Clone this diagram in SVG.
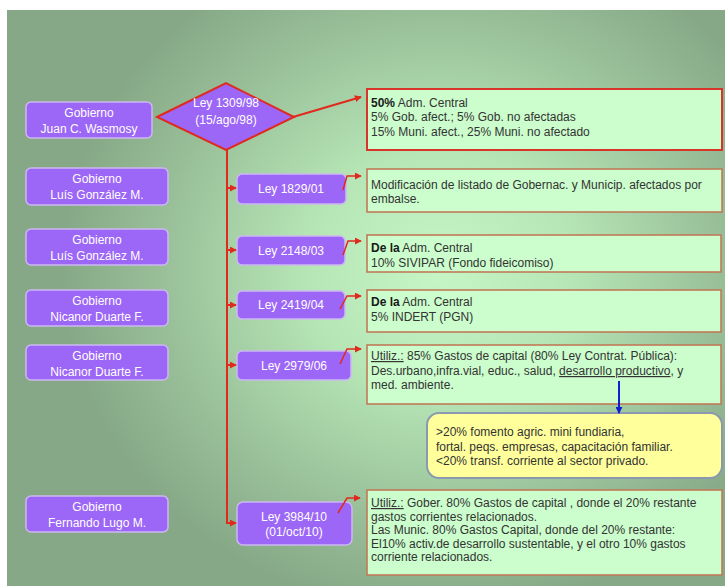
<svg xmlns="http://www.w3.org/2000/svg" width="725" height="586" viewBox="0 0 725 586">
<defs>
<radialGradient id="bg" gradientUnits="userSpaceOnUse" cx="440" cy="270" r="360" gradientTransform="translate(440 270) scale(1.05 0.95) translate(-440 -270)">
<stop offset="0" stop-color="#c6f6c6"/>
<stop offset="0.35" stop-color="#b6e6b6"/>
<stop offset="0.75" stop-color="#98be98"/>
<stop offset="1" stop-color="#86a886"/>
</radialGradient>
<marker id="ar" viewBox="0 0 8 8" refX="7" refY="4" markerWidth="7" markerHeight="7" markerUnits="userSpaceOnUse" orient="auto">
<path d="M0,0 L8,4 L0,8 z" fill="#e02a1e"/>
</marker>
<marker id="ab" viewBox="0 0 8 8" refX="7" refY="4" markerWidth="7" markerHeight="7" markerUnits="userSpaceOnUse" orient="auto">
<path d="M0,0 L8,4 L0,8 z" fill="#1020d0"/>
</marker>
</defs>
<style>
text{font-family:"Liberation Sans",Arial,sans-serif;font-size:12px}
.gov rect,.ley rect{fill:#9c66f7;stroke:#cbb8f2;stroke-width:1.5}
.gov text,.ley text,.dia text{fill:#ffffff;text-anchor:middle}
.info rect{fill:#ccfdcc;stroke:#c07a58;stroke-width:1.6}
.info text{fill:#333333}
.red{fill:none;stroke:#e02a1e;stroke-width:2}
.thin{fill:none;stroke:#e02a1e;stroke-width:1.5}
.bd{font-weight:bold;fill:#1a1a1a}
.u{text-decoration:underline}
</style>
<rect x="0" y="0" width="725" height="586" fill="#ffffff"/>
<rect x="7" y="10" width="718" height="576" fill="url(#bg)"/>

<g id="gov1" class="gov"><rect x="26" y="102" width="126" height="36" rx="5"/><text x="89" y="117">Gobierno</text><text x="89" y="133">Juan C. Wasmosy</text></g>
<g id="gov2" class="gov"><rect x="26" y="168" width="142" height="37" rx="5"/><text x="97" y="183">Gobierno</text><text x="97" y="199">Luís González  M.</text></g>
<g id="gov3" class="gov"><rect x="26" y="229" width="142" height="36" rx="5"/><text x="97" y="244">Gobierno</text><text x="97" y="260">Luís González  M.</text></g>
<g id="gov4" class="gov"><rect x="26" y="290" width="142" height="36" rx="5"/><text x="97" y="305">Gobierno</text><text x="97" y="321">Nicanor Duarte F.</text></g>
<g id="gov5" class="gov"><rect x="26" y="345" width="142" height="35" rx="5"/><text x="97" y="360">Gobierno</text><text x="97" y="376">Nicanor Duarte F.</text></g>
<g id="gov6" class="gov"><rect x="26" y="496" width="142" height="36" rx="5"/><text x="97" y="511">Gobierno</text><text x="97" y="527">Fernando Lugo M.</text></g>

<g id="ley1309" class="dia"><polygon points="157,117 226,83 294,117 226,150" fill="#9c66f7" stroke="#e02a1e" stroke-width="2"/><text x="226" y="107">Ley 1309/98</text><text x="226" y="124">(15/ago/98)</text></g>
<g id="ley1829" class="ley"><rect x="237" y="174" width="109" height="30" rx="5"/><text x="291" y="193">Ley 1829/01</text></g>
<g id="ley2148" class="ley"><rect x="237" y="236" width="108" height="29" rx="5"/><text x="291" y="255">Ley 2148/03</text></g>
<g id="ley2419" class="ley"><rect x="237" y="291" width="108" height="28" rx="5"/><text x="291" y="309">Ley 2419/04</text></g>
<g id="ley2979" class="ley"><rect x="237" y="351" width="114" height="29" rx="5"/><text x="294" y="370">Ley 2979/06</text></g>
<g id="ley3984" class="ley"><rect x="237" y="502" width="115" height="43" rx="6"/><text x="294" y="521">Ley 3984/10</text><text x="294" y="536">(01/oct/10)</text></g>

<g id="info1309" class="info"><rect x="367" y="89" width="355" height="61" style="stroke:#d8342a;stroke-width:2"/>
<text x="371" y="107"><tspan class="bd">50%</tspan> Adm. Central</text>
<text x="371" y="121">5% Gob. afect.; 5% Gob. no afectadas</text>
<text x="371" y="136">15% Muni. afect., 25% Muni. no afectado</text></g>
<g id="info1829" class="info"><rect x="367" y="169" width="355" height="43"/>
<text x="371" y="189">Modificación de listado de Gobernac. y Municip. afectados por</text>
<text x="371" y="203">embalse.</text></g>
<g id="info2148" class="info"><rect x="367" y="235" width="354" height="37"/>
<text x="371" y="252"><tspan class="bd">De la</tspan> Adm. Central</text>
<text x="371" y="267">10% SIVIPAR (Fondo fideicomiso)</text></g>
<g id="info2419" class="info"><rect x="367" y="290" width="354" height="42"/>
<text x="371" y="306"><tspan class="bd">De la</tspan> Adm. Central</text>
<text x="371" y="321">5% INDERT (PGN)</text></g>
<g id="info2979" class="info"><rect x="367" y="345" width="354" height="59"/>
<text x="371" y="360"><tspan class="u">Utiliz.:</tspan> 85% Gastos de capital (80% Ley Contrat. Pública):</text>
<text x="371" y="375">Des.urbano,infra.vial, educ., salud, <tspan class="u">desarrollo productivo</tspan>, y</text>
<text x="371" y="389">med. ambiente.</text></g>
<g id="fomento"><rect x="427" y="413" width="295" height="65" rx="12" fill="#ffff9c" stroke="#8a98b0" stroke-width="2"/>
<text x="436" y="436" fill="#333333">&gt;20% fomento agric. mini fundiaria,</text>
<text x="436" y="451" fill="#333333">fortal. peqs. empresas, capacitación familiar.</text>
<text x="436" y="465" fill="#333333">&lt;20% transf. corriente al sector privado.</text></g>
<g id="info3984" class="info"><rect x="367" y="490" width="355" height="85"/>
<text x="371" y="507"><tspan class="u">Utiliz.:</tspan> Gober. 80% Gastos de capital , donde el 20% restante</text>
<text x="371" y="521">gastos corrientes relacionados.</text>
<text x="371" y="534">Las Munic. 80% Gastos Capital, donde del 20% restante:</text>
<text x="371" y="548">El10% activ.de desarrollo sustentable, y el otro 10% gastos</text>
<text x="371" y="561">corriente relacionados.</text></g>

<g id="connectors">
<path class="red" d="M227,150 V523 H236" marker-end="url(#ar)"/>
<path class="red" d="M293,117 L361,97" marker-end="url(#ar)"/>
<path class="red" d="M227,188 H236" marker-end="url(#ar)"/>
<path class="red" d="M227,250 H236" marker-end="url(#ar)"/>
<path class="red" d="M227,305 H236" marker-end="url(#ar)"/>
<path class="red" d="M227,365 H236" marker-end="url(#ar)"/>
<path class="thin" d="M343,190 L347,176 H361" marker-end="url(#ar)"/>
<path class="thin" d="M343,255 L348,241 H361" marker-end="url(#ar)"/>
<path class="thin" d="M340,309 L347,296 H361" marker-end="url(#ar)"/>
<path class="thin" d="M340,364 L347,349 H361" marker-end="url(#ar)"/>
<path class="thin" d="M338,513 L347,498 H360" marker-end="url(#ar)"/>
<path d="M619,381 V413" fill="none" stroke="#1020d0" stroke-width="2" marker-end="url(#ab)"/>
</g>
</svg>
